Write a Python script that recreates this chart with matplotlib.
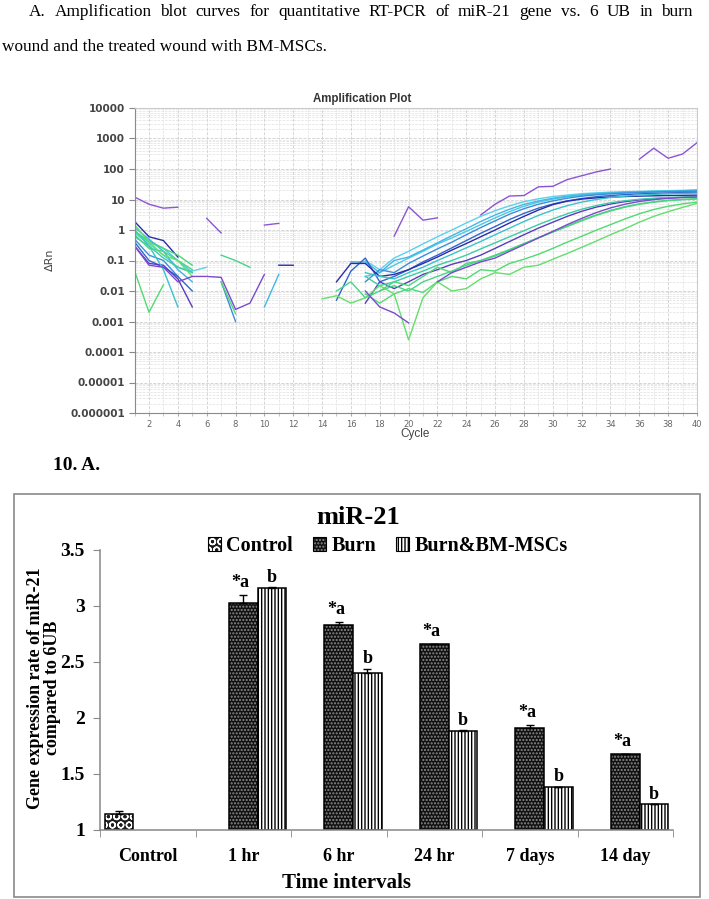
import numpy as np
import matplotlib
matplotlib.use('Agg')
import matplotlib.pyplot as plt
from matplotlib.patches import Patch, Rectangle
from matplotlib.ticker import FixedLocator, FixedFormatter, NullFormatter, LogLocator

nan = np.nan

# ---- amplification plot: delta Rn per cycle (nan = not drawn on log axis) ----
cycles = np.arange(1, 41)

purple_hi = [12, 7, 5.2, 5.6, nan, 2.4, 0.8, nan, nan, 1.45,
             1.65, nan, nan, nan, nan, nan, nan, nan, 0.63, 5.8,
             2.1, 2.5, nan, nan, 3.1, 7, 13, 13.5, 26, 27,
             45, 60, 80, 100, nan, 210, 480, 225, 310, 730]
cyan_a = [0.8, 0.35, 0.15, 0.06, 0.045, 0.06, nan, nan, nan, nan,
          nan, nan, nan, nan, nan, nan, 0.1, 0.05, 0.12, 0.2,
          0.35, 0.6, 1.0, 1.7, 2.8, 4.3, 6.2, 8.5, 10.5, 12.5,
          14, 15.5, 16.5, 17.5, 18, 18.5, 19, 19.5, 20, 21]
cyan_n = [0.9, 0.45, 0.25, 0.1, 0.04, nan, nan, nan, nan, nan,
          nan, nan, nan, nan, nan, nan, 0.03, 0.04, 0.07, 0.12,
          0.2, 0.35, 0.55, 0.9, 1.5, 2.5, 4.0, 6.0, 8.2, 10.3,
          12.2, 13.8, 15.2, 16.3, 17.1, 17.8, 18.4, 18.9, 19.3, 19.7]
sky_b = [1.2, 0.5, 0.2, 0.05, 0.02, nan, nan, nan, nan, 0.003,
         0.035, nan, nan, nan, nan, 0.09, 0.09, 0.04, 0.1, 0.13,
         0.22, 0.38, 0.65, 1.1, 1.9, 3.1, 4.8, 6.9, 9, 11,
         12.8, 14.3, 15.5, 16.5, 17.2, 17.8, 18.3, 18.8, 19.2, 19.6]
azure_c = [0.5, 0.15, 0.1, 0.03, nan, nan, 0.02, 0.001, nan, nan,
           nan, nan, nan, nan, nan, nan, 0.02, 0.05, 0.04, 0.08,
           0.14, 0.24, 0.4, 0.7, 1.2, 2.0, 3.3, 5.0, 7.0, 9.0,
           11, 12.8, 14.2, 15.3, 16.2, 17, 17.6, 18.1, 18.5, 18.8]
royal_d = [0.4, 0.1, 0.06, 0.03, 0.01, nan, nan, nan, nan, nan,
           nan, nan, nan, nan, 0.005, 0.045, 0.12, 0.02, 0.03, 0.05,
           0.09, 0.15, 0.26, 0.45, 0.78, 1.3, 2.2, 3.5, 5.2, 7.1,
           9, 10.8, 12.3, 13.5, 14.5, 15.3, 15.9, 16.4, 16.8, 17.1]
navy_e = [1.9, 0.6, 0.45, 0.13, nan, nan, nan, nan, nan, nan,
          0.07, 0.07, nan, nan, 0.02, 0.08, 0.08, 0.03, 0.035, 0.05,
          0.08, 0.13, 0.22, 0.36, 0.6, 1.0, 1.7, 2.8, 4.5, 6.8,
          8.8, 10.3, 11.3, 12, 12.5, 12.9, 13.2, 13.5, 13.7, 13.9]
indigo_f = [0.3, 0.08, 0.07, 0.025, 0.003, nan, nan, nan, nan, nan,
            nan, nan, nan, nan, nan, nan, 0.004, 0.02, 0.012, 0.02,
            0.035, 0.05, 0.075, 0.1, 0.15, 0.25, 0.42, 0.7, 1.15, 1.8,
            2.8, 4.1, 5.6, 7.1, 8.5, 9.7, 10.6, 11.3, 11.8, 12.2]
turq_g = [1.0, 0.3, 0.05, 0.003, nan, nan, nan, nan, nan, nan,
          nan, nan, nan, nan, nan, nan, 0.04, 0.03, 0.025, 0.04,
          0.06, 0.1, 0.16, 0.26, 0.42, 0.7, 1.15, 1.9, 3.0, 4.5,
          6.3, 8.2, 10, 11.6, 12.9, 13.9, 14.7, 15.3, 15.8, 16.2]
aqua_h = [0.6, 0.3, 0.12, 0.06, 0.04, nan, nan, nan, nan, nan,
          nan, nan, nan, nan, nan, nan, 0.03, 0.015, 0.02, 0.03,
          0.045, 0.07, 0.1, 0.15, 0.24, 0.38, 0.6, 0.95, 1.5, 2.3,
          3.4, 4.8, 6.3, 7.8, 9.1, 10.2, 11, 11.6, 12, 12.4]
mint_i = [0.7, 0.25, 0.2, 0.1, 0.05, nan, 0.15, 0.1, 0.06, nan,
          nan, nan, nan, nan, 0.01, 0.02, 0.006, 0.01, 0.015, 0.01,
          0.02, 0.03, 0.045, 0.07, 0.1, 0.15, 0.23, 0.36, 0.56, 0.88,
          1.35, 2.1, 3.1, 4.4, 5.8, 7.2, 8.4, 9.4, 10.1, 10.6]
spring_m = [0.9, 0.4, 0.25, 0.15, 0.07, nan, nan, nan, nan, nan,
            nan, nan, nan, nan, nan, nan, nan, 0.01, 0.02, 0.015,
            0.03, 0.06, 0.04, 0.08, 0.1, 0.14, 0.22, 0.35, 0.55, 0.85,
            1.3, 2.0, 3.0, 4.2, 5.6, 7.0, 8.2, 9.2, 9.9, 10.4]
green_j = [0.045, 0.002, 0.016, nan, nan, nan, 0.02, 0.0018, nan, nan,
           nan, nan, nan, nan, nan, nan, 0.008, 0.004, 0.008, 0.012,
           0.009, 0.02, 0.03, 0.025, 0.05, 0.045, 0.08, 0.11, 0.16, 0.25,
           0.4, 0.62, 0.98, 1.5, 2.3, 3.4, 4.7, 6.0, 7.2, 8.2]
lime_k = [1.5, 0.4, 0.15, 0.1, 0.03, nan, nan, nan, nan, nan,
          nan, nan, nan, 0.0055, 0.007, 0.004, 0.006, 0.015, 0.008, 0.00025,
          0.006, 0.02, 0.01, 0.012, 0.025, 0.04, 0.035, 0.06, 0.07, 0.11,
          0.17, 0.27, 0.43, 0.7, 1.1, 1.8, 2.8, 4.0, 5.5, 7.5]
violet_l = [0.3, 0.07, 0.06, 0.02, 0.03, 0.03, 0.028, 0.0025, 0.004, 0.035,
            nan, nan, nan, nan, nan, nan, 0.01, 0.003, 0.0019, 0.0009,
            nan, 0.02, 0.04, 0.06, 0.09, 0.12, 0.2, 0.33, 0.55, 0.9,
            1.5, 2.4, 3.7, 5.3, 7, 8.6, 9.9, 10.9, 11.6, 12.1]

curves = [purple_hi, cyan_a, cyan_n, sky_b, azure_c, royal_d, navy_e, indigo_f,
          turq_g, aqua_h, mint_i, spring_m, green_j, lime_k, violet_l]
curve_colors = ['#8c55d4', '#5ad2ea', '#4cc8e4', '#42b6e6', '#3a8edc', '#3066cc',
                '#2a2ca6', '#5a3cc0', '#38c4cc', '#3ccca6', '#46d488', '#4ad67c',
                '#52da72', '#64de6c', '#7a4ace']
ytick_labels = ['0.000001', '0.00001', '0.0001', '0.001', '0.01', '0.1',
                '1', '10', '100', '1000', '10000']

# ---- bar chart: miR-21 expression ----
groups = ['Control', '1 hr', '6 hr', '24 hr', '7 days', '14 day']
control_val = [1.14]
control_err = [0.03]
burn_vals = [3.03, 2.83, 2.66, 1.91, 1.68]
burn_err = [0.07, 0.03, 0.005, 0.03, 0.0]
bm_vals = [3.16, 2.40, 1.885, 1.383, 1.23]
bm_err = [0.01, 0.04, 0.005, 0.005, 0.0]
burn_marks = ['*a'] * 5
bm_marks = ['b'] * 5

W, H = 709, 899
fig = plt.figure(figsize=(W / 100, H / 100), dpi=100)
serif = 'Liberation Serif'


def px(x, y):
    return x / W, 1 - y / H


# header, justified like the source page
renderer = fig.canvas.get_renderer()
line1 = "A. Amplification blot curves for quantitative RT-PCR of miR-21 gene vs. 6 UB in burn".split()
texts = [fig.text(0, 1 - 12 / H, w, family=serif, fontsize=12.4, va='center') for w in line1]
widths = [t.get_window_extent(renderer).width for t in texts]
gap = ((693 - 29) - sum(widths)) / (len(texts) - 1)
xpos = 29
for t, w in zip(texts, widths):
    t.set_x(xpos / W)
    xpos += w + gap
fig.text(*px(2, 47), "wound and the treated wound with BM-MSCs.", family=serif,
         fontsize=12.4, va='center')

# ---- amplification plot ----
ax1 = fig.add_axes([134.6 / W, 1 - 413 / H, (697 - 134.6) / W, 305 / H])
for vals, col in zip(curves, curve_colors):
    ax1.plot(cycles, vals, color=col, lw=1.0)
ax1.set_yscale('log')
ax1.set_ylim(1e-6, 1e4)
ax1.set_xlim(1, 40)
ax1.yaxis.set_major_locator(FixedLocator(10.0 ** np.arange(-6, 5)))
ax1.yaxis.set_major_formatter(FixedFormatter(ytick_labels))
ax1.yaxis.set_minor_locator(LogLocator(base=10, subs=np.arange(2, 10), numticks=100))
ax1.yaxis.set_minor_formatter(NullFormatter())
ax1.set_xticks(np.arange(2, 41, 2))
ax1.set_xticks(np.arange(1, 41), minor=True)
ax1.grid(which='major', ls='--', color='#cfcfcf', lw=0.6)
ax1.grid(which='minor', ls='--', color='#e0e0e0', lw=0.5)
ax1.tick_params(axis='y', which='major', length=4, color='#888', labelsize=7.5,
                labelcolor='#444', pad=3)
ax1.tick_params(axis='y', which='minor', length=0)
ax1.tick_params(axis='x', which='major', length=2, color='#aaa', labelsize=6,
                labelcolor='#666', pad=3)
ax1.tick_params(axis='x', which='minor', length=2, color='#bbb')
for lab in ax1.get_yticklabels():
    lab.set_fontweight('bold')
for s in ['left', 'bottom']:
    ax1.spines[s].set_color('#8a8a8a')
for s in ['top', 'right']:
    ax1.spines[s].set_color('#cccccc')
fig.text(*px(362, 99), 'Amplification Plot', family='Liberation Sans', fontweight='bold',
         fontsize=8.3, color='#333', ha='center', va='center')
fig.text(*px(50, 260), 'ΔRn', fontsize=8, color='#444', rotation=90, ha='center', va='center')
fig.text(*px(415, 434), 'Cycle', family='Liberation Sans', fontsize=8.5, color='#444',
         ha='center', va='center')

fig.text(*px(53, 465), '10. A.', family=serif, fontweight='bold', fontsize=14,
         ha='left', va='center')

# ---- bar chart ----
fig.add_artist(Rectangle(px(14, 897), (700 - 14) / W, (897 - 494) / H,
                         transform=fig.transFigure, fill=False, edgecolor='#8a8a8a', lw=1.2))

ax2 = fig.add_axes([100 / W, 1 - 830 / H, 573 / W, 280 / H])
bw = 0.3
xc = np.arange(len(groups))
xb = xc[1:]


def textured(x, h, face, hatch, hcol):
    ax2.bar(x, np.array(h) - 1, bw, bottom=1, color=face, edgecolor=hcol, hatch=hatch, lw=0)
    ax2.bar(x, np.array(h) - 1, bw, bottom=1, facecolor='none', edgecolor='black', lw=1.1)


textured(xc[:1] - bw, control_val, '#1e1e1e', 'OO', 'white')
textured(xb, burn_vals, '#111111', '.....', '#8c8c8c')
textured(xb + bw, bm_vals, 'white', '|||||', 'black')

ax2.errorbar(xc[:1] - bw, control_val, yerr=[[0], control_err], fmt='none', ecolor='black',
             elinewidth=1, capsize=3)
ax2.errorbar(xb, burn_vals, yerr=[np.zeros(5), burn_err], fmt='none', ecolor='black',
             elinewidth=1, capsize=3)
ax2.errorbar(xb + bw, bm_vals, yerr=[np.zeros(5), bm_err], fmt='none', ecolor='black',
             elinewidth=1, capsize=3)

for x, v, e, m in zip(xb, burn_vals, burn_err, burn_marks):
    ax2.annotate(m, (x, v + e), xytext=(-2, 9), textcoords='offset points', ha='center',
                 va='center', family=serif, fontweight='bold', fontsize=13)
for x, v, e, m in zip(xb + bw, bm_vals, bm_err, bm_marks):
    ax2.annotate(m, (x, v + e), xytext=(0, 7), textcoords='offset points', ha='center',
                 va='center', family=serif, fontweight='bold', fontsize=13)

ax2.set_xlim(-0.5, len(groups) - 0.5)
ax2.set_ylim(1, 3.5)
ax2.set_yticks([1, 1.5, 2, 2.5, 3, 3.5])
ax2.set_yticklabels(['1', '1.5', '2', '2.5', '3', '3.5'])
ax2.set_xticks(xc)
ax2.set_xticklabels(groups)
ax2.set_xticks(np.arange(-0.5, len(groups)), minor=True)
ax2.tick_params(axis='x', which='major', length=0, pad=13)
ax2.tick_params(axis='x', which='minor', length=5, color='#888')
ax2.tick_params(axis='y', length=5, color='#888', pad=6)
for lab in ax2.get_xticklabels() + ax2.get_yticklabels():
    lab.set_family(serif)
    lab.set_fontweight('bold')
for lab in ax2.get_xticklabels():
    lab.set_fontsize(13)
for lab in ax2.get_yticklabels():
    lab.set_fontsize(14)
for s in ['top', 'right']:
    ax2.spines[s].set_visible(False)
for s in ['left', 'bottom']:
    ax2.spines[s].set_color('#888')
    ax2.spines[s].set_linewidth(1.1)

fig.text(*px(358, 517), 'miR-21', family=serif, fontweight='bold', fontsize=19,
         ha='center', va='center')
fig.text(*px(44, 688), 'Gene expression rate of miR-21\ncompared to 6UB', family=serif,
         fontweight='bold', fontsize=13, rotation=90, ha='center', va='center',
         multialignment='center', linespacing=1.05)
fig.text(*px(346, 883), 'Time intervals', family=serif, fontweight='bold', fontsize=15,
         ha='center', va='center')

outline = dict(facecolor='none', edgecolor='black', lw=0.8)
handles = [
    (Patch(facecolor='#1e1e1e', edgecolor='white', hatch='OO', lw=0), Patch(**outline)),
    (Patch(facecolor='#111111', edgecolor='#8c8c8c', hatch='.....', lw=0), Patch(**outline)),
    Patch(facecolor='white', edgecolor='black', hatch='|||||', lw=0.8),
]
fig.legend(handles, ['Control', 'Burn', 'Burn&BM-MSCs'], loc='center',
           bbox_to_anchor=px(388, 546), ncol=3, frameon=False, handlelength=0.65,
           handleheight=0.65, handletextpad=0.25, columnspacing=1.0,
           prop={'family': serif, 'weight': 'bold', 'size': 14.5})

fig.savefig('out.png', dpi=100)
